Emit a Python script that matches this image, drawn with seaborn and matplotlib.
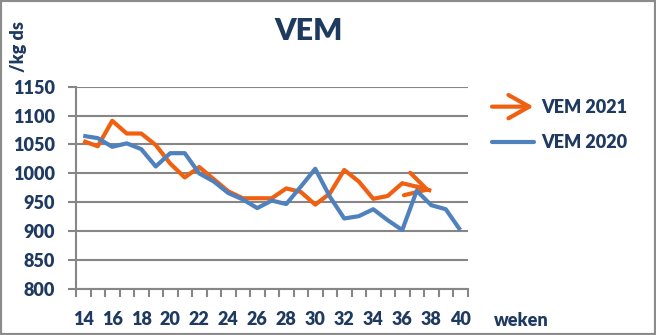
import numpy as np
import pandas as pd
import matplotlib
matplotlib.use("Agg")
import matplotlib.pyplot as plt
import seaborn as sns
from matplotlib.patches import FancyArrowPatch, Rectangle
from matplotlib.legend_handler import HandlerBase
from matplotlib.lines import Line2D

# Weekly VEM per kg dry matter
weeks_2021 = list(range(14, 39))
vem_2021 = [1056, 1047, 1091, 1069, 1069, 1049, 1017, 993, 1011, 990,
            969, 957, 957, 957, 974, 968, 946, 965, 1006, 986,
            956, 961, 983, 977, 970]
weeks_2020 = list(range(14, 41))
vem_2020 = [1065, 1061, 1046, 1052, 1042, 1012, 1035, 1035, 1000, 986,
            966, 955, 940, 953, 947, 977, 1008, 960, 922, 926,
            938, 919, 902, 970, 945, 938, 902]
y_ticks = [800, 850, 900, 950, 1000, 1050, 1100, 1150]
x_labels = list(range(14, 41, 2))

ORANGE = "#EF6010"
BLUE = "#4F81BD"
GRID = "#868686"
NAVY = "#1F3A60"
WEIGHT = "heavy"
ARROW = "->,head_length=0.75,head_width=0.42"

sns.set_theme(style="white")
plt.rcParams["font.family"] = ["Lato", "DejaVu Sans"]

W, H = 656, 335
fig = plt.figure(figsize=(W / 100, H / 100), dpi=100)
ax = fig.add_axes([76 / W, 1 - 289 / H, (467.5 - 76) / W, (289 - 86.7) / H])

df = pd.DataFrame({
    "week": weeks_2021 + weeks_2020,
    "vem": vem_2021 + vem_2020,
    "serie": ["VEM 2021"] * len(weeks_2021) + ["VEM 2020"] * len(weeks_2020),
})
sns.lineplot(data=df, x="week", y="vem", hue="serie",
             hue_order=["VEM 2021", "VEM 2020"],
             palette={"VEM 2021": ORANGE, "VEM 2020": BLUE},
             linewidth=3, estimator=None, sort=False, legend=False, ax=ax)
for ln in ax.lines:
    ln.set_solid_joinstyle("round")
    ln.set_solid_capstyle("butt")
ax.lines[0].set_zorder(3)
ax.lines[1].set_zorder(4)

# arrow head at the end of the 2021 series
ax.annotate("", xy=(weeks_2021[-1], vem_2021[-1]),
            xytext=(weeks_2021[-2], vem_2021[-2]),
            arrowprops=dict(arrowstyle=ARROW, mutation_scale=20, lw=3,
                            color=ORANGE, shrinkA=0, shrinkB=0,
                            joinstyle="round", capstyle="round"),
            zorder=3)

ax.set_xlim(13.5, 40.5)
ax.set_ylim(800, 1150)
ax.set_yticks(y_ticks)
ax.set_yticklabels([str(v) for v in y_ticks])
ax.yaxis.grid(True, color=GRID, linewidth=1.5)
ax.xaxis.grid(False)
ax.set_axisbelow(True)

ax.set_xticks(np.arange(13.5, 41, 1.0))
ax.set_xticklabels([])
ax.set_xticks(x_labels, minor=True)
ax.set_xticklabels([str(v) for v in x_labels], minor=True)
ax.tick_params(axis="x", which="major", bottom=True, length=6, width=1.5,
               color=GRID, direction="out")
ax.tick_params(axis="x", which="minor", bottom=True, length=0, pad=16,
               labelsize=13, labelcolor=NAVY)
ax.tick_params(axis="y", left=True, length=6, width=1.5, color=GRID,
               direction="out", pad=9, labelsize=13, labelcolor=NAVY)
for lbl in ax.get_xticklabels(minor=True) + ax.get_yticklabels():
    lbl.set_fontweight(WEIGHT)

for side in ("top", "right"):
    ax.spines[side].set_visible(False)
for side in ("left", "bottom"):
    ax.spines[side].set_color(GRID)
    ax.spines[side].set_linewidth(1.5)
ax.set_xlabel("")
ax.set_ylabel("")


class ArrowHandler(HandlerBase):
    def create_artists(self, legend, orig_handle, xdescent, ydescent,
                       width, height, fontsize, trans):
        y = height / 2 - ydescent
        arrow = FancyArrowPatch((-xdescent, y), (-xdescent + width, y),
                                arrowstyle=ARROW, mutation_scale=20, lw=3,
                                color=orig_handle.get_color(),
                                shrinkA=0, shrinkB=0, transform=trans,
                                capstyle="round", joinstyle="round")
        return [arrow]


h2021 = Line2D([], [], color=ORANGE, lw=3)
h2020 = Line2D([], [], color=BLUE, lw=3, solid_capstyle="round")
leg = fig.legend([h2021, h2020], ["VEM 2021", "VEM 2020"],
                 handler_map={h2021: ArrowHandler()},
                 loc="center left", bbox_to_anchor=(492 / W, 1 - 125 / H),
                 frameon=False, borderpad=0, borderaxespad=0,
                 handlelength=2.3, handletextpad=0.4, labelspacing=1.0,
                 prop={"size": 13, "weight": WEIGHT})
for t in leg.get_texts():
    t.set_color(NAVY)

fig.text(309 / W, 1 - 31.5 / H, "VEM", ha="center", va="center",
         fontsize=22, fontweight=WEIGHT, color=NAVY)
fig.text(18.5 / W, 1 - 47 / H, "/kg ds", rotation=90, ha="center",
         va="center", fontsize=13, fontweight=WEIGHT, color=NAVY)
fig.text(521 / W, 1 - 320 / H, "weken", ha="center", va="center",
         fontsize=13, fontweight=WEIGHT, color=NAVY)

fig.add_artist(Rectangle((0, 0), 1, 1, transform=fig.transFigure,
                         fill=False, edgecolor="#8C8C8C", lw=3))

fig.savefig("out.png", dpi=100)
